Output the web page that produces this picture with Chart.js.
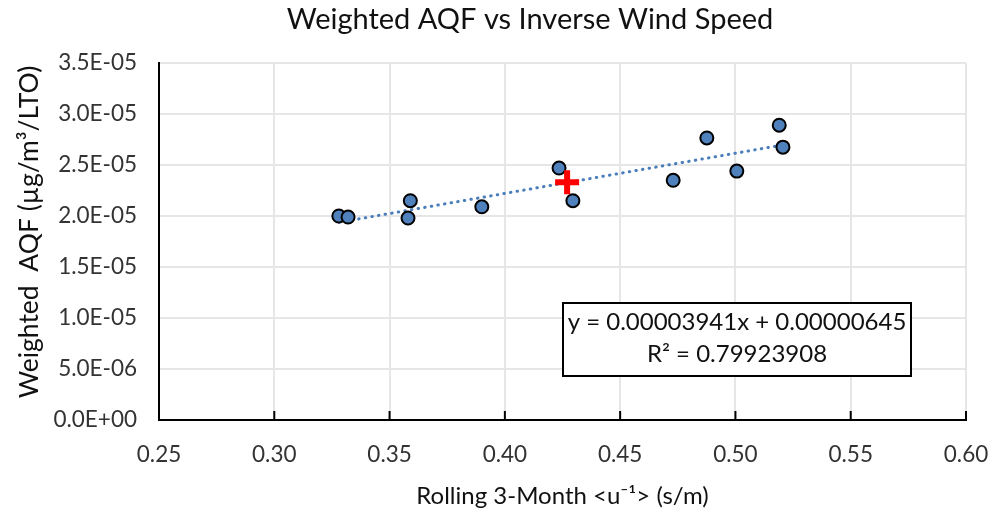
<!DOCTYPE html>
<html>
<head>
<meta charset="utf-8">
<script src="https://cdn.jsdelivr.net/npm/chart.js@4.4.1/dist/chart.umd.min.js"></script>
<style>
  body { margin: 0; background: #fff; }
  #wrap { width: 995px; height: 514px; }
</style>
</head>
<body>
<div id="wrap"><canvas id="myChart" width="995" height="514"></canvas></div>
<script>
// values
var xValues = [0.328, 0.332, 0.358, 0.359, 0.390, 0.4235, 0.4295, 0.473, 0.4876, 0.5006, 0.519, 0.5206];
var yValues = [2.00e-5, 1.99e-5, 1.98e-5, 2.15e-5, 2.09e-5, 2.47e-5, 2.15e-5, 2.35e-5, 2.765e-5, 2.44e-5, 2.89e-5, 2.675e-5];
var meanX = [0.427];
var meanY = [2.33e-5];
var slope = 0.00003941;
var intercept = 0.00000645;
var rSquared = '0.79923908';
var xTicks = [0.25, 0.30, 0.35, 0.40, 0.45, 0.50, 0.55, 0.60];
var yTicks = [0, 5e-6, 1e-5, 1.5e-5, 2e-5, 2.5e-5, 3e-5, 3.5e-5];

var FONT = 'Lato';
Chart.defaults.font.family = FONT;

function sci(v) {
  var parts = Number(v).toExponential(1).split('e');
  var exp = parts[1];
  return parts[0] + 'E' + exp[0] + exp.slice(1).padStart(2, '0');
}

var points = xValues.map(function (x, i) { return {x: x, y: yValues[i]}; });
var xMin = Math.min.apply(null, xValues);
var xMax = Math.max.apply(null, xValues);
var trend = [xMin, xMax].map(function (x) { return {x: x, y: slope * x + intercept}; });
var mean = meanX.map(function (x, i) { return {x: x, y: meanY[i]}; });

var extras = {
  id: 'extras',
  afterDraw: function (chart) {
    var ctx = chart.ctx;
    var area = chart.chartArea;
    var xs = chart.scales.x;
    ctx.save();
    // inner tick marks on the x axis
    ctx.strokeStyle = '#000';
    ctx.lineWidth = 2;
    xTicks.forEach(function (t) {
      var px = xs.getPixelForValue(t);
      ctx.beginPath();
      ctx.moveTo(px, area.bottom);
      ctx.lineTo(px, area.bottom - 9);
      ctx.stroke();
    });
    ctx.textAlign = 'center';
    ctx.textBaseline = 'middle';
    // title
    ctx.fillStyle = '#111';
    ctx.font = '29px ' + FONT;
    ctx.fillText('Weighted AQF vs Inverse Wind Speed', 530, 20);
    // y axis title
    ctx.save();
    ctx.translate(29, 232);
    ctx.rotate(-Math.PI / 2);
    ctx.font = '26.5px ' + FONT;
    ctx.fillText('Weighted  AQF (\u00b5g/m\u00b3/LTO)', 0, 0);
    ctx.restore();
    // equation box
    var bx = 563, by = 303, bw = 348, bh = 73;
    ctx.fillStyle = '#fff';
    ctx.fillRect(bx, by, bw, bh);
    ctx.strokeRect(bx, by, bw, bh);
    ctx.fillStyle = '#111';
    ctx.font = '24px ' + FONT;
    var eq = 'y = ' + slope.toFixed(8) + 'x + ' + intercept.toFixed(8);
    ctx.fillText(eq, bx + bw / 2, by + 19);
    ctx.fillText('R\u00b2 = ' + rSquared, bx + bw / 2, by + 51);
    ctx.restore();
  }
};

new Chart('myChart', {
  type: 'scatter',
  data: {
    datasets: [{
      data: mean,
      pointStyle: 'cross',
      pointRadius: 12,
      pointBorderWidth: 6,
      borderColor: '#ff0000',
      backgroundColor: '#ff0000',
      order: 0
    }, {
      data: points,
      pointRadius: 6.5,
      pointBorderWidth: 2,
      backgroundColor: '#4f81bd',
      borderColor: '#000',
      order: 1
    }, {
      data: trend,
      showLine: true,
      pointRadius: 0,
      borderColor: '#4a7ebb',
      borderWidth: 3,
      borderDash: [0.5, 6.2],
      borderCapStyle: 'round',
      order: 2
    }]
  },
  options: {
    responsive: false,
    animation: false,
    layout: {padding: {top: 63, right: 29, left: 0, bottom: 0}},
    plugins: {legend: {display: false}, tooltip: {enabled: false}},
    scales: {
      x: {
        min: 0.25,
        max: 0.60,
        afterBuildTicks: function (s) { s.ticks = xTicks.map(function (v) { return {value: v}; }); },
        afterFit: function (s) { s.height = 94; s.paddingLeft = 0; s.paddingRight = 0; },
        grid: {color: '#e6e6e6', lineWidth: 2, drawTicks: false},
        border: {color: '#000', width: 2},
        ticks: {
          padding: 21,
          color: '#333',
          font: {size: 22.5},
          maxRotation: 0,
          callback: function (v) { return Number(v).toFixed(2); }
        },
        title: {
          display: true,
          text: 'Rolling 3-Month <u\u207b\u00b9> (s/m)',
          color: '#111',
          font: {size: 24},
          padding: {top: 0, bottom: 3}
        }
      },
      y: {
        min: 0,
        max: 3.5e-5,
        afterBuildTicks: function (s) { s.ticks = yTicks.map(function (v) { return {value: v}; }); },
        afterFit: function (s) { s.width = 159; },
        grid: {color: '#e6e6e6', lineWidth: 2, drawTicks: false},
        border: {color: '#000', width: 2},
        ticks: {
          padding: 22,
          color: '#333',
          font: {size: 22.5},
          callback: function (v) { return sci(v); }
        }
      }
    }
  },
  plugins: [extras]
});
</script>
</body>
</html>
